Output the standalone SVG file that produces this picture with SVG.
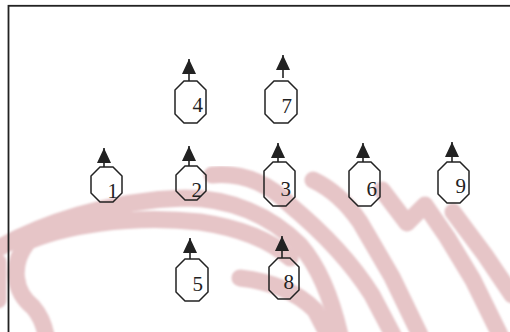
<svg xmlns="http://www.w3.org/2000/svg" width="510" height="332" viewBox="0 0 510 332">
<style>
.wm{fill:none;stroke:#e6c5c7;stroke-width:17;stroke-linecap:round;stroke-linejoin:round}
.oct{fill:none;stroke:#222;stroke-width:1.5}
.lbl{font-family:"Liberation Serif","Times New Roman",serif;font-size:21px;fill:#222;text-anchor:end}
.arr{stroke:#222;stroke-width:1.6;marker-end:url(#tri)}
</style>
<defs>
<marker id="tri" markerUnits="userSpaceOnUse" markerWidth="16" markerHeight="16" refX="15" refY="7" orient="auto">
<path d="M0,0 L15,7 L0,14 Z" fill="#222"/>
</marker>
<filter id="soft" x="-5%" y="-5%" width="110%" height="110%"><feGaussianBlur stdDeviation="1.2"/></filter>
</defs>
<rect width="510" height="332" fill="#fff"/>
<g id="watermark" filter="url(#soft)">
<path class="wm" d="M-5,250 C40,224 110,200 185,198 C230,198 270,215 300,245 C320,268 332,300 340,335"/>
<path class="wm" d="M22,244 C60,226 130,214 200,222 C240,228 270,240 290,258"/>
<path class="wm" d="M240,278 C275,282 300,295 315,310 L328,335"/>
<path class="wm" d="M27,243 C10,265 14,292 33,307 C40,315 44,325 46,335"/>
<path class="wm" d="M-2,262 L-2,300"/>
<path class="wm" d="M212,175 C245,172 270,185 290,205 C320,230 350,260 372,295 L393,335"/>
<path class="wm" d="M313,180 C330,188 345,200 360,222 L392,277 L420,335"/>
<path class="wm" d="M382,190 L407,223 L425,205 L447,237 L473,280 L500,335"/>
<path class="wm" d="M453,212 L485,255 L512,295"/>
</g>
<rect x="8.5" y="5.8" width="620" height="420" fill="none" stroke="#222" stroke-width="1.8"/>
<g id="connectors">
<line class="arr" x1="189" y1="81" x2="189" y2="59"/>
<line class="arr" x1="283" y1="78" x2="283" y2="55"/>
<line class="arr" x1="104" y1="167" x2="104" y2="148"/>
<line class="arr" x1="189" y1="166" x2="189" y2="146"/>
<line class="arr" x1="278" y1="162" x2="278" y2="143"/>
<line class="arr" x1="363" y1="162" x2="363" y2="143"/>
<line class="arr" x1="452" y1="162" x2="452" y2="142"/>
<line class="arr" x1="190" y1="259" x2="190" y2="238"/>
<line class="arr" x1="282" y1="258" x2="282" y2="236"/>
</g>
<g id="node4"><polygon class="oct" points="184,81 197,81 206,90 206,114 197,123 184,123 175,114 175,90"/><text class="lbl" x="203" y="112">4</text></g>
<g id="node7"><polygon class="oct" points="274,81 288,81 297,90 297,114 288,123 274,123 265,114 265,90"/><text class="lbl" x="292" y="113">7</text></g>
<g id="node1"><polygon class="oct" points="100,167 113,167 122,176 122,193 113,202 100,202 91,193 91,176"/><text class="lbl" x="118" y="198">1</text></g>
<g id="node2"><polygon class="oct" points="185,166 197,166 206,175 206,191 197,200 185,200 176,191 176,175"/><text class="lbl" x="202" y="197">2</text></g>
<g id="node3"><polygon class="oct" points="273,162 286,162 295,171 295,197 286,206 273,206 264,197 264,171"/><text class="lbl" x="291" y="196">3</text></g>
<g id="node6"><polygon class="oct" points="358,162 371,162 380,171 380,197 371,206 358,206 349,197 349,171"/><text class="lbl" x="377" y="196">6</text></g>
<g id="node9"><polygon class="oct" points="447,162 460,162 469,171 469,194 460,203 447,203 438,194 438,171"/><text class="lbl" x="466" y="193">9</text></g>
<g id="node5"><polygon class="oct" points="185,259 199,259 208,268 208,292 199,301 185,301 176,292 176,268"/><text class="lbl" x="203" y="291">5</text></g>
<g id="node8"><polygon class="oct" points="278,258 290,258 299,267 299,290 290,299 278,299 269,290 269,267"/><text class="lbl" x="294" y="289">8</text></g>
</svg>
